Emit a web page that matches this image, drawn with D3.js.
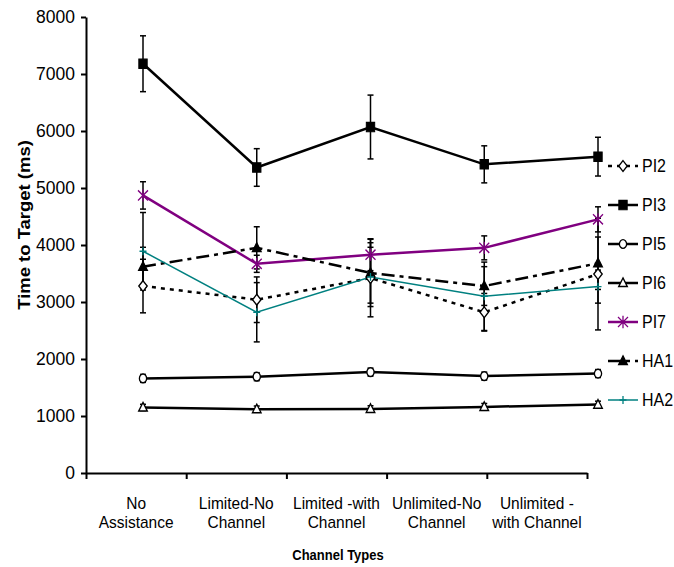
<!DOCTYPE html>
<html>
<head>
<meta charset="utf-8">
<script src="https://cdn.jsdelivr.net/npm/d3@7"></script>
<style>
  html, body { margin: 0; padding: 0; background: #fff; }
  svg { display: block; font-family: "Liberation Sans", Arial, sans-serif; }
</style>
</head>
<body>
<svg id="chart" width="674" height="567"></svg>
<script>
// ---------------- data ----------------
const categories = ["No Assistance", "Limited-No Channel", "Limited -with Channel", "Unlimited-No Channel", "Unlimited - with Channel"];
const categoryLines = [["No", "Assistance"], ["Limited-No", "Channel"], ["Limited -with", "Channel"], ["Unlimited-No", "Channel"], ["Unlimited -", "with Channel"]];
const seriesNames = ["PI2", "PI3", "PI5", "PI6", "PI7", "HA1", "HA2"];

const PI2 = [3280, 3040, 3420, 2820, 3490];
const PI2_err = [470, 400, 680, 330, 980];
const PI3 = [7180, 5360, 6070, 5415, 5550];
const PI3_err = [490, 330, 560, 325, 340];
const PI5 = [1660, 1690, 1770, 1700, 1745];
const PI5_err = [70, 70, 70, 70, 70];
const PI6 = [1150, 1120, 1125, 1160, 1200];
const PI6_err = [55, 55, 55, 60, 60];
const PI7 = [4870, 3670, 3830, 3950, 4450];
const PI7_err = [240, 150, 280, 210, 220];
const HA1 = [3620, 3950, 3510, 3280, 3680];
const HA1_err = [340, 370, 530, 340, 460];
const HA2 = [3890, 2820, 3440, 3100, 3270];
const HA2_err = [680, 520, 520, 600, 290];

const yTicks = [0, 1000, 2000, 3000, 4000, 5000, 6000, 7000, 8000];
const yTitle = "Time to Target (ms)";
const xTitle = "Channel Types";

// ---------------- styles ----------------
const styles = {
  PI2: { color: "#000", width: 2.5, dash: "4,5", marker: "diamond", fill: "#fff" },
  PI3: { color: "#000", width: 2.5, dash: null, marker: "square", fill: "#000" },
  PI5: { color: "#000", width: 2.5, dash: null, marker: "circle", fill: "#fff" },
  PI6: { color: "#000", width: 2.5, dash: null, marker: "triangle", fill: "#fff" },
  PI7: { color: "#800080", width: 2.5, dash: null, marker: "asterisk", fill: "none" },
  HA1: { color: "#000", width: 2.5, dash: "13,5,4,5", marker: "triangle", fill: "#000" },
  HA2: { color: "#008080", width: 1.5, dash: null, marker: "plus", fill: "none" }
};
const seriesData = { PI2, PI3, PI5, PI6, PI7, HA1, HA2 };
const seriesErr = { PI2: PI2_err, PI3: PI3_err, PI5: PI5_err, PI6: PI6_err, PI7: PI7_err, HA1: HA1_err, HA2: HA2_err };

const svg = d3.select("#chart");
const SY = 1.12; // vertical stretch of the original rendering

// ---------------- scales ----------------
const y = d3.scaleLinear().domain([0, 8000]).range([473, 17]);
const xBand = d3.scaleBand().domain(categories).range([86, 587]).padding(0);
const xEdge = d3.scaleLinear().domain([0, categories.length]).range([86, 587]);
const xPt = d3.scalePoint().domain(categories).range([143, 598]);
const legendY = d3.scalePoint().domain(seriesNames).range([166, 400]);

// ---------------- axes ----------------
const yAxis = svg.append("g")
  .attr("transform", "translate(86,0)")
  .call(d3.axisLeft(y).tickValues(yTicks).tickSize(5).tickSizeOuter(0).tickPadding(6).tickFormat(d3.format("d")));
yAxis.select(".domain").attr("stroke", "#000").attr("stroke-width", 2);
yAxis.selectAll(".tick line").attr("stroke", "#000").attr("stroke-width", 2);
yAxis.selectAll(".tick text")
  .attr("fill", "#000")
  .style("font-size", "17.5px")
  .style("font-family", "'Liberation Sans', Arial, sans-serif");

const xAxis = svg.append("g")
  .attr("transform", "translate(0,473)")
  .call(d3.axisBottom(xEdge).tickValues(d3.range(0, categories.length + 1)).tickSize(6).tickSizeOuter(0).tickFormat(""));
xAxis.select(".domain").attr("stroke", "#000").attr("stroke-width", 2);
xAxis.selectAll(".tick line").attr("stroke", "#000").attr("stroke-width", 2);

// category labels
categories.forEach((c, i) => {
  const g = svg.append("g")
    .attr("transform", `translate(${xBand(c) + xBand.bandwidth() / 2},502) scale(1,${SY})`);
  const t = g.append("text").attr("text-anchor", "middle")
    .style("font-size", "15.5px").attr("fill", "#000");
  categoryLines[i].forEach((ln, j) => {
    t.append("tspan").attr("x", 0).attr("y", j === 0 ? 6.3 : 23.2).text(ln);
  });
});

// axis titles
svg.append("text")
  .attr("transform", `translate(${xBand.range ? 338 : 338},560) scale(1,${SY})`)
  .attr("text-anchor", "middle")
  .style("font-size", "13px").style("font-weight", "bold")
  .text(xTitle);

svg.append("text")
  .attr("transform", `translate(30,225) scale(1,${SY}) rotate(-90)`)
  .attr("text-anchor", "middle")
  .style("font-size", "16.5px").style("font-weight", "bold")
  .text(yTitle);

// ---------------- marker drawing ----------------
function drawMarker(g, type, cx, cy, st) {
  const m = g.append("g").attr("transform", `translate(${cx},${cy}) scale(1,${SY})`);
  if (type === "square") {
    m.append("path").attr("d", d3.symbol(d3.symbolSquare, 70)()).attr("fill", st.fill).attr("stroke", st.color).attr("stroke-width", 1);
  } else if (type === "diamond") {
    m.append("path").attr("d", "M0,-4.8L4.2,0L0,4.8L-4.2,0Z").attr("fill", st.fill).attr("stroke", st.color).attr("stroke-width", 1.3);
  } else if (type === "circle") {
    m.append("ellipse").attr("rx", 3.6).attr("ry", 3.9).attr("fill", st.fill).attr("stroke", st.color).attr("stroke-width", 1.3);
  } else if (type === "triangle") {
    m.append("path").attr("d", "M0,-4.5L4.3,3.2L-4.3,3.2Z").attr("fill", st.fill).attr("stroke", st.color).attr("stroke-width", 1.3);
  } else if (type === "asterisk") {
    m.append("path").attr("d", "M-5,-4.5L5,4.5M-5,4.5L5,-4.5M0,-5.5L0,5.5").attr("fill", "none").attr("stroke", st.color).attr("stroke-width", 1.3);
  } else if (type === "plus") {
    m.append("path").attr("d", "M-3.5,0L3.5,0M0,-3.5L0,3.5").attr("fill", "none").attr("stroke", st.color).attr("stroke-width", 1.3);
  }
}

// ---------------- series ----------------
const plot = svg.append("g");
const lineGen = d3.line().x((d, i) => xPt(categories[i])).y(d => y(d));

seriesNames.forEach(name => {
  const st = styles[name];
  plot.append("path")
    .datum(seriesData[name])
    .attr("d", lineGen)
    .attr("fill", "none")
    .attr("stroke", st.color)
    .attr("stroke-width", st.width)
    .attr("stroke-dasharray", st.dash)
    .attr("stroke-linejoin", "miter");
});

// error bars
seriesNames.forEach(name => {
  const vals = seriesData[name], errs = seriesErr[name];
  const g = plot.append("g").attr("stroke", "#000").attr("stroke-width", 1.5);
  vals.forEach((v, i) => {
    const cx = xPt(categories[i]);
    const y1 = y(v + errs[i]), y2 = y(v - errs[i]);
    g.append("line").attr("x1", cx).attr("x2", cx).attr("y1", y1).attr("y2", y2);
    g.append("line").attr("x1", cx - 3).attr("x2", cx + 3).attr("y1", y1).attr("y2", y1);
    g.append("line").attr("x1", cx - 3).attr("x2", cx + 3).attr("y1", y2).attr("y2", y2);
  });
});

// markers
seriesNames.forEach(name => {
  const st = styles[name];
  seriesData[name].forEach((v, i) => drawMarker(plot, st.marker, xPt(categories[i]), y(v), st));
});

// ---------------- legend ----------------
const legend = svg.append("g");
seriesNames.forEach(name => {
  const st = styles[name];
  const ly = legendY(name);
  legend.append("line")
    .attr("x1", 608).attr("x2", 638).attr("y1", ly).attr("y2", ly)
    .attr("stroke", st.color).attr("stroke-width", st.width)
    .attr("stroke-dasharray", st.dash);
  drawMarker(legend, st.marker, 623, ly, st);
  legend.append("text")
    .attr("transform", `translate(642,${ly}) scale(1,1.1)`)
    .attr("y", 5.8)
    .style("font-size", "16px")
    .attr("fill", "#000")
    .text(name);
});
</script>
</body>
</html>
